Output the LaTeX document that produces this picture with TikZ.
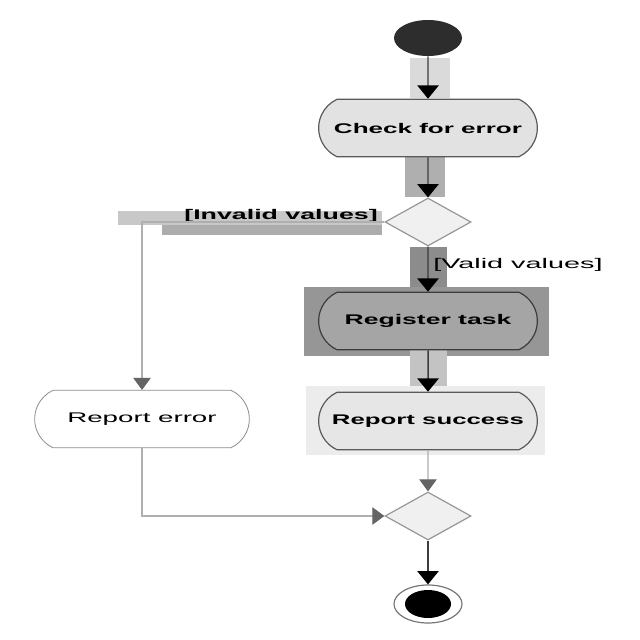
\documentclass[tikz,border=0pt]{standalone}
\usepackage{fontspec}
\usepackage{graphicx}
\setmainfont{Liberation Sans}
\usetikzlibrary{shapes.geometric,shapes.misc,arrows.meta}
\definecolor{tipgray}{RGB}{100,100,100}
% stretch a text to a given width, height kept
\newcommand{\fitw}[2]{\resizebox{#1}{\height}{#2}}

\begin{document}
\begin{tikzpicture}[x=0.75pt,y=0.75pt,yscale=-1,xscale=1,
  action/.style={rounded rectangle,rounded rectangle arc length=130,draw={rgb,255:red,90;green,90;blue,90},line width=0.9pt,
     minimum width=164pt,minimum height=43pt,inner sep=0pt,font=\fontsize{10.5}{12}\selectfont\bfseries},
  choice/.style={diamond,draw={rgb,255:red,150;green,150;blue,150},line width=0.9pt,
     fill={rgb,255:red,240;green,240;blue,240},minimum width=64.5pt,minimum height=36pt,inner sep=0pt},
  flow/.style={draw={rgb,255:red,60;green,60;blue,60},line width=1.1pt,
     -{Triangle[width=16pt,length=10pt,color=black,fill=black]}},
  thinflow/.style={draw={rgb,255:red,175;green,175;blue,175},line width=0.8pt,
     -{Triangle[width=13pt,length=9pt,color=tipgray,fill=tipgray]}},
  guard/.style={inner sep=0pt,font=\fontsize{10.5}{12}\selectfont}]
\useasboundingbox (0,0) rectangle (640,640);
\fill[white] (0,0) rectangle (640,640);

% highlight boxes
\fill[color={rgb,255:red,218;green,218;blue,218}] (410,58) rectangle (450,98);
\fill[color={rgb,255:red,175;green,175;blue,175}] (405,155) rectangle (445,197);
\fill[color={rgb,255:red,200;green,200;blue,200}] (118,211) rectangle (382,225);
\fill[color={rgb,255:red,172;green,172;blue,172}] (162,225) rectangle (382,235);
\fill[color={rgb,255:red,140;green,140;blue,140}] (410,247) rectangle (447,293);
\fill[color={rgb,255:red,150;green,150;blue,150}] (304,287) rectangle (549,356);
\fill[color={rgb,255:red,195;green,195;blue,195}] (410,350) rectangle (447,392);
\fill[color={rgb,255:red,236;green,236;blue,236}] (306,386) rectangle (545,455);

% nodes
\node[ellipse,fill={rgb,255:red,45;green,45;blue,45},minimum width=51pt,minimum height=27pt,inner sep=0pt] (start) at (428,38) {};
\node[action,fill={rgb,255:red,226;green,226;blue,226}] (check) at (428,128) {\fitw{141pt}{Check for error}};
\node[choice] (dec) at (428,222) {};
\node[action,fill={rgb,255:red,165;green,165;blue,165},draw={rgb,255:red,60;green,60;blue,60}] (reg) at (428,321) {\fitw{125pt}{Register task}};
\node[action,fill={rgb,255:red,230;green,230;blue,230}] (succ) at (428,421) {\fitw{144pt}{Report success}};
\node[action,fill=white,draw={rgb,255:red,140;green,140;blue,140},line width=0.6pt,font=\fontsize{10.5}{12}\selectfont,minimum width=161pt] (rerr) at (142,419) {\fitw{112pt}{Report error}};
\node[choice] (merge) at (428,516) {};
\node[ellipse,draw={rgb,255:red,120;green,120;blue,120},line width=0.9pt,minimum width=51pt,minimum height=28.5pt,inner sep=0pt] (stop) at (428,604) {};
\node[ellipse,fill=black,minimum width=34.5pt,minimum height=21pt,inner sep=0pt] (stopdot) at (428,604) {};

% guards
\node[guard,anchor=east,font=\fontsize{10.5}{12}\selectfont\bfseries] (inv) at (378,216) {\fitw{145pt}{[Invalid values]}};
\node[guard,anchor=west] (val) at (433,265) {\fitw{127pt}{[Valid values]}};

% connectors
\draw[flow] (start) -- (check);
\draw[flow] (check) -- (dec);
\draw[flow] (dec) -- (reg);
\draw[flow] (reg) -- (succ);
\draw[thinflow] (succ) -- (merge);
\draw[thinflow] (dec.west) -| (rerr.north);
\draw[thinflow] (rerr.south) |- (merge.west);
\draw[flow] (merge) -- (stop);
\end{tikzpicture}
\end{document}
